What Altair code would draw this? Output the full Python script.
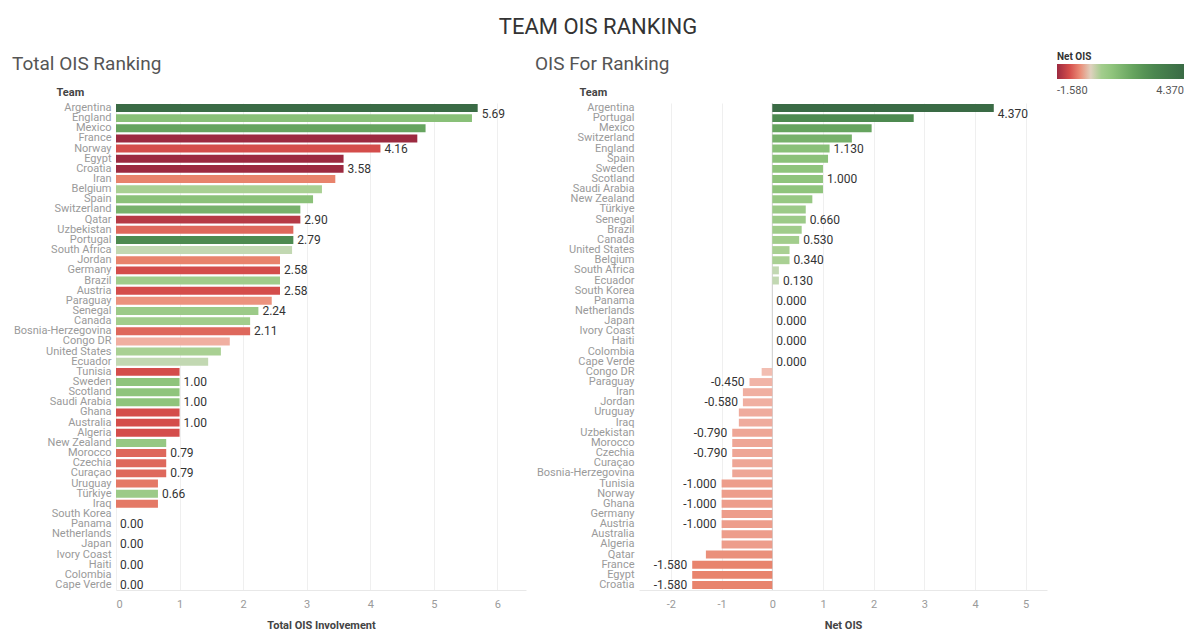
import altair as alt
import pandas as pd

# ---- data ----
teams = ["Argentina", "England", "Mexico", "France", "Norway", "Egypt", "Croatia", "Iran",
         "Belgium", "Spain", "Switzerland", "Qatar", "Uzbekistan", "Portugal", "South Africa",
         "Jordan", "Germany", "Brazil", "Austria", "Paraguay", "Senegal", "Canada",
         "Bosnia-Herzegovina", "Congo DR", "United States", "Ecuador", "Tunisia", "Sweden",
         "Scotland", "Saudi Arabia", "Ghana", "Australia", "Algeria", "New Zealand", "Morocco",
         "Czechia", "Curaçao", "Uruguay", "Türkiye", "Iraq", "South Korea", "Panama",
         "Netherlands", "Japan", "Ivory Coast", "Haiti", "Colombia", "Cape Verde"]

total_ois = [5.69, 5.60, 4.87, 4.74, 4.16, 3.58, 3.58, 3.45,
             3.24, 3.10, 2.90, 2.90, 2.79, 2.79, 2.77,
             2.58, 2.58, 2.58, 2.58, 2.45, 2.24, 2.11,
             2.11, 1.79, 1.65, 1.45, 1.00, 1.00,
             1.00, 1.00, 1.00, 1.00, 1.00, 0.79, 0.79,
             0.79, 0.79, 0.66, 0.66, 0.66, 0.00, 0.00,
             0.00, 0.00, 0.00, 0.00, 0.00, 0.00]

net_ois = [4.37, 1.13, 1.96, -1.58, -1.00, -1.58, -1.58, -0.58,
           0.34, 1.10, 1.57, -1.31, -0.79, 2.79, 0.13,
           -0.58, -1.00, 0.58, -1.00, -0.45, 0.66, 0.53,
           -0.79, -0.21, 0.34, 0.13, -1.00, 1.00,
           1.00, 1.00, -1.00, -1.00, -1.00, 0.79, -0.79,
           -0.79, -0.79, -0.66, 0.66, -0.66, 0.00, 0.00,
           0.00, 0.00, 0.00, 0.00, 0.00, 0.00]

net_order = ["Argentina", "Portugal", "Mexico", "Switzerland", "England", "Spain", "Sweden",
             "Scotland", "Saudi Arabia", "New Zealand", "Türkiye", "Senegal", "Brazil", "Canada",
             "United States", "Belgium", "South Africa", "Ecuador", "South Korea", "Panama",
             "Netherlands", "Japan", "Ivory Coast", "Haiti", "Colombia", "Cape Verde", "Congo DR",
             "Paraguay", "Iran", "Jordan", "Uruguay", "Iraq", "Uzbekistan", "Morocco", "Czechia",
             "Curaçao", "Bosnia-Herzegovina", "Tunisia", "Norway", "Ghana", "Germany", "Austria",
             "Australia", "Algeria", "Qatar", "France", "Egypt", "Croatia"]

left_labelled = ["Argentina", "Norway", "Croatia", "Qatar", "Portugal", "Germany", "Austria",
                 "Senegal", "Bosnia-Herzegovina", "Sweden", "Saudi Arabia", "Australia",
                 "Morocco", "Curaçao", "Türkiye", "Panama", "Japan", "Haiti", "Cape Verde"]

right_labelled = ["Argentina", "England", "Scotland", "Senegal", "Canada", "Belgium", "Ecuador",
                  "Panama", "Japan", "Haiti", "Cape Verde", "Paraguay", "Jordan", "Uzbekistan",
                  "Czechia", "Tunisia", "Ghana", "Austria", "France", "Croatia"]

df = pd.DataFrame({"Team": teams, "Total": total_ois, "Net": net_ois})
df["LeftLabel"] = df["Team"].isin(left_labelled)
df["RightLabel"] = df["Team"].isin(right_labelled)
TOP_TEAM = teams[0]

# ---- colour scale (red-green diverging) ----
neg_min, pos_max = -1.58, 4.37
dom = [-1.58, -1.0, -0.58, -0.2, -0.001, 0.001, 0.13, 0.34, 1.0, 1.96, 2.79, 4.37]
rng = ["#9c2a40", "#d44d4b", "#e8836c", "#f0b0a2", "#f3c6bc", "#cbdcbf",
       "#c2d8b2", "#a9d093", "#8fc47c", "#66a45f", "#4d8a50", "#3a6b45"]
# right panel uses a colour range symmetric around zero: negatives are compressed
sym = -neg_min / pos_max

FONT = "Roboto"
LABEL_GRAY = "#9a9a9a"
HYPHEN_LABEL = "datum.value < 0 ? '-' + format(-datum.value, '{f}') : format(datum.value, '{f}')"

H = 487
W_L = 410
W_R = 408
EXTENT = 104

color_scale = alt.Scale(domain=dom, range=rng, interpolate="rgb")
legend = alt.Legend(title="Net OIS", orient="none", direction="horizontal",
                    legendX=941, legendY=-51, gradientLength=127,
                    gradientThickness=15, values=[neg_min, pos_max],
                    labelExpr=HYPHEN_LABEL.replace("{f}", ".3f"),
                    titleFont=FONT, titleFontSize=10, titlePadding=2,
                    titleFontWeight="bold", titleColor="#333",
                    labelFont=FONT, labelFontSize=11, labelColor="#555", labelOffset=6,
                    gradientStrokeWidth=0)


def y_enc(order):
    return alt.Y("Team:N", sort=order,
                 scale=alt.Scale(paddingInner=0.22, paddingOuter=0.1),
                 axis=alt.Axis(title="Team", titleAngle=0, titleAlign="left",
                               titleX=-60, titleY=-6, titleFont=FONT, titleFontSize=11,
                               titleFontWeight="bold", titleColor="#444",
                               labelFont=FONT, labelFontSize=11, labelColor=LABEL_GRAY,
                               ticks=False, domain=False, labelPadding=5,
                               minExtent=EXTENT, maxExtent=EXTENT, labelLimit=200))


def x_axis(title, values):
    return alt.Axis(title=title, values=values, titleFont=FONT, titleFontSize=11,
                    titleFontWeight="bold", titleColor="#444", titlePadding=10,
                    labelFont=FONT, labelFontSize=11, labelColor=LABEL_GRAY,
                    labelExpr=HYPHEN_LABEL.replace("{f}", "d"),
                    labelPadding=8, ticks=False, grid=True, gridColor="#efefef",
                    domainColor="#e8e8e8")


def value_text(base, filt, align, dx, dy=0):
    return base.transform_filter(filt).mark_text(
        align=align, dx=dx, dy=dy, font=FONT, fontSize=12, color="#333")


# ---- left panel ----
base_l = alt.Chart(df)
x_l = alt.X("Total:Q", scale=alt.Scale(domain=[0, 6.45], nice=False),
            axis=x_axis("Total OIS Involvement", [0, 1, 2, 3, 4, 5, 6]))
bars_l = base_l.mark_bar().encode(
    y=y_enc(teams), x=x_l,
    color=alt.Color("Net:Q", scale=color_scale, legend=legend))
text_l = value_text(base_l, f"datum.LeftLabel && datum.Team != '{TOP_TEAM}'", "left", 4).encode(
    y=y_enc(teams), x=x_l, text=alt.Text("Total:Q", format=".2f"))
text_l_top = value_text(base_l, f"datum.Team == '{TOP_TEAM}'", "left", 4, 6).encode(
    y=y_enc(teams), x=x_l, text=alt.Text("Total:Q", format=".2f"))

left = alt.layer(bars_l, text_l, text_l_top).properties(
    width=W_L, height=H,
    title=alt.TitleParams("Total OIS Ranking", anchor="start", frame="bounds",
                          font=FONT, fontSize=19, fontWeight="normal", color="#555",
                          offset=12))

# ---- right panel ----
base_r = alt.Chart(df).transform_calculate(
    NetColor=f"datum.Net < 0 ? datum.Net * {sym} : datum.Net",
    NetLabel="(datum.Net < 0 ? '-' : '') + format(abs(datum.Net), '.3f')")
x_r = alt.X("Net:Q", scale=alt.Scale(domain=[-2.63, 5.42], nice=False),
            axis=x_axis("Net OIS", [-2, -1, 0, 1, 2, 3, 4, 5]))
bars_r = base_r.mark_bar().encode(
    y=y_enc(net_order), x=x_r,
    color=alt.Color("NetColor:Q", scale=color_scale, legend=legend))
zero_r = alt.Chart(pd.DataFrame({"z": [0]})).mark_rule(color="#cfcfcf", strokeWidth=1).encode(
    x=alt.X("z:Q", scale=alt.Scale(domain=[-2.63, 5.42], nice=False)))
text_rp = value_text(base_r, f"datum.RightLabel && datum.Net >= 0 && datum.Team != '{TOP_TEAM}'",
                     "left", 4).encode(y=y_enc(net_order), x=x_r, text="NetLabel:N")
text_r_top = value_text(base_r, f"datum.Team == '{TOP_TEAM}'", "left", 4, 6).encode(
    y=y_enc(net_order), x=x_r, text="NetLabel:N")
text_rn = value_text(base_r, "datum.RightLabel && datum.Net < 0", "right", -5).encode(
    y=y_enc(net_order), x=x_r, text="NetLabel:N")

right = alt.layer(zero_r, bars_r, text_rp, text_r_top, text_rn).properties(
    width=W_R, height=H,
    title=alt.TitleParams("OIS For Ranking", anchor="start", frame="bounds",
                          font=FONT, fontSize=19, fontWeight="normal", color="#555",
                          offset=12))

chart = alt.hconcat(left, right, spacing=9).resolve_scale(color="shared").properties(
    title=alt.TitleParams("TEAM OIS RANKING", anchor="middle", font=FONT, fontSize=22,
                          fontWeight="normal", color="#333", offset=13),
    padding={"left": 12, "top": 16, "right": 5, "bottom": 5},
    background="white",
).configure_view(stroke=None)

chart.save("out.html", embed_options={"renderer": "svg", "actions": False})
